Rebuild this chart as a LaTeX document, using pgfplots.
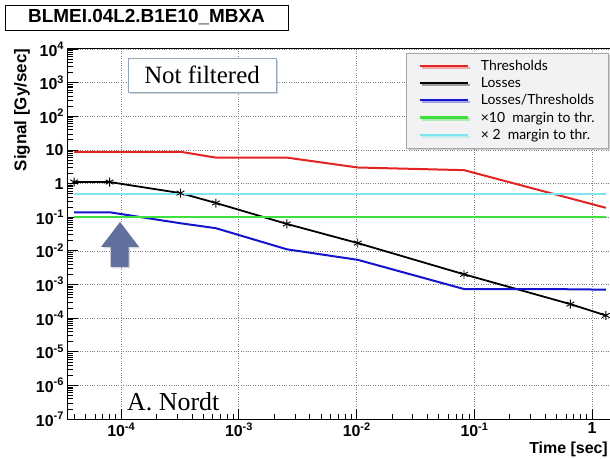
\documentclass[border=0pt]{standalone}
\usepackage{pgfplots}
\pgfplotsset{compat=1.18}
\usepackage{fontspec}
\setmainfont{Liberation Sans}
\newfontfamily\legfont{Lato}
\newfontfamily\serfont{Liberation Serif}
\usetikzlibrary{shadows}

\definecolor{thr}{RGB}{228,35,35}
\definecolor{lblue}{RGB}{20,20,205}
\definecolor{mgreen}{RGB}{60,225,60}
\definecolor{mcyan}{RGB}{125,230,240}
\definecolor{arrowc}{RGB}{98,112,160}
\definecolor{leggray}{RGB}{242,242,245}
\definecolor{boxc}{RGB}{150,165,190}

\newcommand{\tp}[1]{10\raisebox{0.42em}{\fontsize{11}{11}\selectfont #1}}

% minor log ticks, 2..9 in each decade
\def\yminor{2e-7}
\foreach \ee in {-7,...,3}{\foreach \mm in {2,...,9}{\xdef\yminor{\yminor,\mm e\ee}}}
\def\xminor{4e-5,5e-5,6e-5,7e-5,8e-5,9e-5}
\foreach \ee in {-4,...,-1}{\foreach \mm in {2,...,9}{\xdef\xminor{\xminor,\mm e\ee}}}

\begin{document}
\begin{tikzpicture}
\path[use as bounding box] (0bp,0bp) rectangle (610bp,459bp);
\fill[white] (0bp,0bp) rectangle (610bp,459bp);

\begin{axis}[
  at={(68bp,40bp)}, anchor=south west,
  width=543bp, height=370bp, scale only axis,
  xmode=log, ymode=log,
  xmin=3.548e-5, xmax=1.45, ymin=1e-7, ymax=1e4,
  xtick={1e-4,1e-3,1e-2,1e-1,1},
  xticklabels={\tp{-4},\tp{-3},\tp{-2},\tp{-1},1},
  ytick={1e-7,1e-6,1e-5,1e-4,1e-3,1e-2,1e-1,1,10,100,1000,10000},
  yticklabels={\tp{-7},\tp{-6},\tp{-5},\tp{-4},\tp{-3},\tp{-2},\tp{-1},1,10,\tp{2},\tp{3},\tp{4}},
  minor xtick/.expanded={\xminor},
  minor ytick/.expanded={\yminor},
  tick align=inside, xtick pos=left, ytick pos=left,
  major tick length=10bp, minor tick length=5bp,
  tick style={black, line width=0.7bp},
  xmajorgrids, ymajorgrids,
  major grid style={gray, line width=0.6bp, dash pattern=on 0.8bp off 1.6bp},
  axis line style={black, line width=1bp},
  ticklabel style={font=\bfseries\fontsize{16}{16}\selectfont},
  yticklabel style={xshift=-1bp},
  legend style={at={(0.996,0.989)}, anchor=north east, fill=leggray, draw=gray!70,
    drop shadow={opacity=0.35, shadow xshift=2bp, shadow yshift=-2bp},
    font=\legfont\fontsize{14}{14}\selectfont, row sep=1.5bp, column sep=10bp,
    inner xsep=12bp, inner ysep=5bp},
  legend cell align=left,
  legend image code/.code={\draw[#1] (0bp,0bp) -- (48bp,0bp);},
]
\addplot[thr, line width=2bp] coordinates {
  (4e-5,8.8) (3.2e-4,8.8) (6.4e-4,5.9) (2.56e-3,5.9) (1.024e-2,3.0) (8.192e-2,2.5) (1.31072,0.19)};
\addlegendentry{Thresholds}
\addplot[black, line width=1.8bp, mark=asterisk, mark size=4.5bp, mark options={line width=0.9bp}] coordinates {
  (4e-5,1.11) (8e-5,1.11) (3.2e-4,0.52) (6.4e-4,0.264) (2.56e-3,0.063) (1.024e-2,0.017) (8.192e-2,2.0e-3) (0.65536,2.6e-4) (1.31072,1.2e-4)};
\addlegendentry{Losses}
\addplot[lblue, line width=2bp] coordinates {
  (4e-5,0.14) (8e-5,0.14) (3.2e-4,0.066) (6.4e-4,0.047) (2.56e-3,0.0111) (1.024e-2,0.0054) (8.192e-2,7.3e-4) (0.65536,7.2e-4) (1.31072,7.0e-4)};
\addlegendentry{Losses/Thresholds}
\addplot[mgreen, line width=2.5bp] coordinates {(4e-5,0.1) (1.31072,0.1)};
\addlegendentry{×10\ \ margin to thr.}
\addplot[mcyan, line width=2bp] coordinates {(4e-5,0.5) (1.31072,0.5)};
\addlegendentry{× 2\ \ margin to thr.}
\end{axis}

% title box
\node[draw, line width=0.8bp, minimum width=283bp, minimum height=25bp, inner sep=0pt,
  font=\bfseries\fontsize{19}{19}\selectfont] at (146.5bp,441.5bp) {BLMEI.04L2.B1E10\_MBXA};
% axis labels
\node[rotate=90, font=\bfseries\fontsize{17}{17}\selectfont] at (22bp,349bp) {Signal [Gy/sec]};
\node[anchor=base east, inner sep=0pt, font=\bfseries\fontsize{16}{16}\selectfont] at (608bp,6bp) {Time [sec]};
% annotations
\node[draw=boxc, line width=0.8bp, fill=white,
  drop shadow={opacity=0.35, shadow xshift=2bp, shadow yshift=-2bp},
  minimum width=148bp, minimum height=34bp,
  font=\serfont\fontsize{25}{25}\selectfont] at (202bp,384bp) {Not filtered};
\node[anchor=base west, inner sep=0pt, font=\serfont\fontsize{26}{26}\selectfont] at (127bp,48bp) {A. Nordt};
\fill[arrowc, drop shadow={opacity=0.3, shadow xshift=1.5bp, shadow yshift=-1.5bp}]
  (110.5bp,192bp) -- (110.5bp,212bp) -- (101bp,212bp) -- (120bp,237bp)
  -- (139bp,212bp) -- (128.5bp,212bp) -- (128.5bp,192bp) -- cycle;
\end{tikzpicture}
\end{document}
